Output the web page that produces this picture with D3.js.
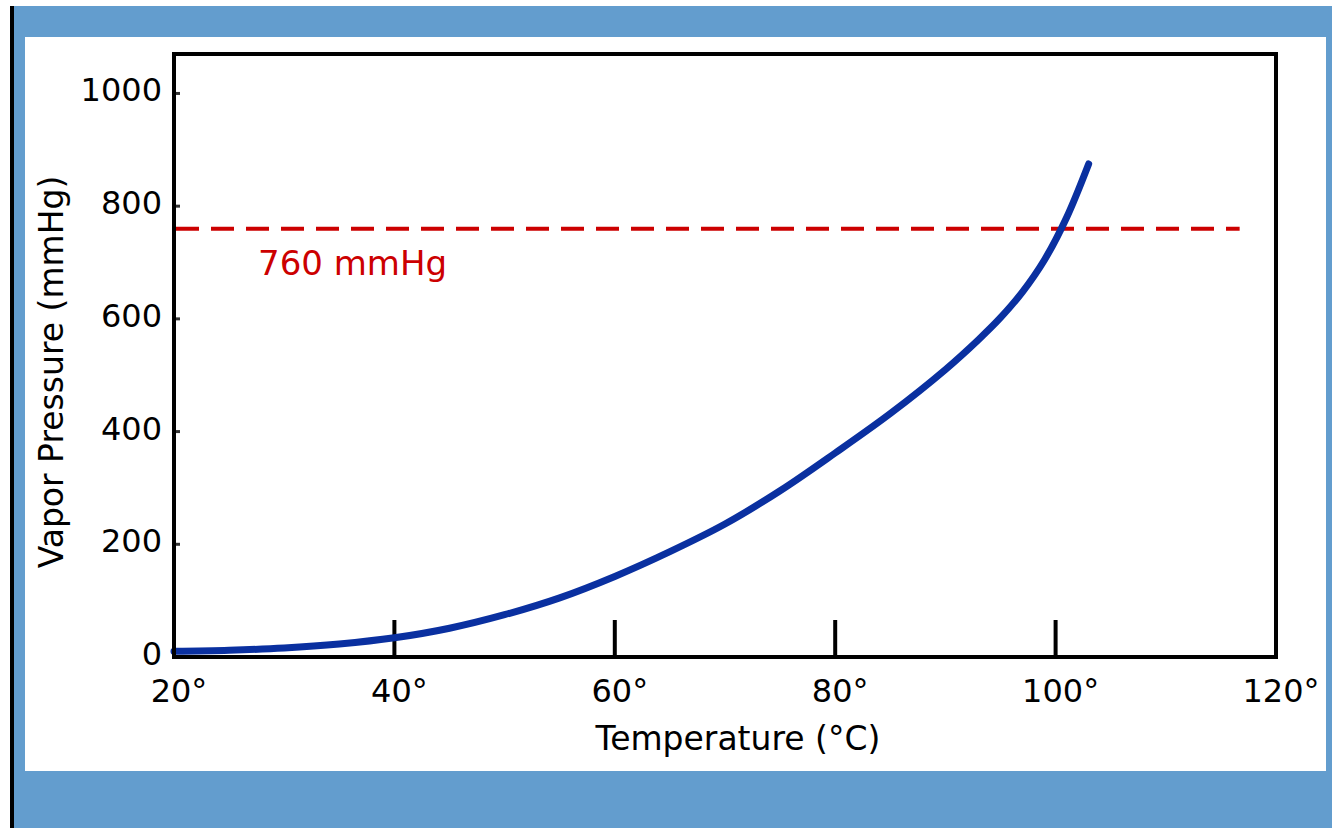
<!DOCTYPE html>
<html>
<head>
<meta charset="utf-8">
<script src="https://cdn.jsdelivr.net/npm/d3@7"></script>
<style>
	html, body { margin: 0; padding: 0; background: #fff; }
	svg { display: block; }
</style>
</head>
<body>
<svg id="chart" width="1332" height="828"></svg>
<script>
'use strict'

// vapour pressure of water
var temps = [20, 25, 30, 35, 40, 45, 50, 55, 60, 65, 70, 75, 80, 85, 90, 93, 95, 97, 99, 101, 103];
var pressures = [10, 12, 16, 23, 34, 51, 75, 105, 143, 187, 236, 295, 362, 432, 510, 563, 602, 648, 705, 780, 875];

var xTicks = [20, 40, 60, 80, 100, 120];
var yTicks = [0, 200, 400, 600, 800, 1000];
var xTickLabels = ['20°', '40°', '60°', '80°', '100°', '120°'];

var refPressure = 760;
var refSpan = [20, 116.7];
var refLabel = '760 mmHg';

var xTitle = 'Temperature (°C)';
var yTitle = 'Vapor Pressure (mmHg)';

function init(){
	var svg = d3.select('#chart');
	var font = 'DejaVu Sans, Verdana, sans-serif';

	// page frame
	svg.append('rect').attr('x', 14).attr('y', 6).attr('width', 1318).attr('height', 822).attr('fill', '#639dce');
	svg.append('rect').attr('x', 10).attr('y', 6).attr('width', 4).attr('height', 822).attr('fill', '#000');
	svg.append('rect').attr('x', 25).attr('y', 37).attr('width', 1301).attr('height', 734).attr('fill', '#fff');

	var x = d3.scaleLinear().domain([20, 120]).range([174, 1276]);
	var y = d3.scaleLinear().domain([0, 1070]).range([657, 54]);

	// x ticks (inside, from the bottom)
	svg.append('g')
		.selectAll('line')
		.data(xTicks.slice(1, -1))
		.enter().append('line')
		.attr('x1', function(d){ return x(d); })
		.attr('x2', function(d){ return x(d); })
		.attr('y1', y(0))
		.attr('y2', y(0) - 37)
		.attr('stroke', '#000')
		.attr('stroke-width', 4);

	// y ticks (short, inside)
	svg.append('g')
		.selectAll('line')
		.data(yTicks.slice(1))
		.enter().append('line')
		.attr('x1', x(20))
		.attr('x2', x(20) + 6)
		.attr('y1', function(d){ return y(d); })
		.attr('y2', function(d){ return y(d); })
		.attr('stroke', '#333')
		.attr('stroke-width', 3);

	// 760 mmHg reference
	svg.append('line')
		.attr('x1', x(refSpan[0]) + 2)
		.attr('x2', x(refSpan[1]))
		.attr('y1', y(refPressure))
		.attr('y2', y(refPressure))
		.attr('stroke', '#cc0000')
		.attr('stroke-width', 4)
		.attr('stroke-dasharray', '23 12');

	svg.append('text')
		.attr('x', 258)
		.attr('y', y(refPressure) + 46)
		.attr('fill', '#cc0000')
		.attr('font-family', font)
		.attr('font-size', 34)
		.text(refLabel);

	// curve
	var line = d3.line()
		.x(function(d){ return x(d[0]); })
		.y(function(d){ return y(d[1]); })
		.curve(d3.curveCatmullRom);

	svg.append('path')
		.attr('d', line(d3.zip(temps, pressures)))
		.attr('fill', 'none')
		.attr('stroke', '#0a30a0')
		.attr('stroke-width', 7)
		.attr('stroke-linecap', 'round');

	// plot frame
	svg.append('rect')
		.attr('x', x(20))
		.attr('y', y(1070))
		.attr('width', x(120) - x(20))
		.attr('height', y(0) - y(1070))
		.attr('fill', 'none')
		.attr('stroke', '#000')
		.attr('stroke-width', 4);

	// tick labels
	svg.append('g')
		.selectAll('text')
		.data(yTicks)
		.enter().append('text')
		.attr('x', x(20) - 12)
		.attr('y', function(d){ return y(d) + 8; })
		.attr('text-anchor', 'end')
		.attr('font-family', font)
		.attr('font-size', 32)
		.text(function(d){ return d; });

	svg.append('g')
		.selectAll('text')
		.data(xTicks)
		.enter().append('text')
		.attr('x', function(d){ return x(d) + 5; })
		.attr('y', 702)
		.attr('text-anchor', 'middle')
		.attr('font-family', font)
		.attr('font-size', 32)
		.text(function(d, i){ return xTickLabels[i]; });

	// axis titles
	svg.append('text')
		.attr('x', 738)
		.attr('y', 750)
		.attr('text-anchor', 'middle')
		.attr('font-family', font)
		.attr('font-size', 33)
		.text(xTitle);

	svg.append('text')
		.attr('transform', 'translate(63,372) rotate(-90)')
		.attr('text-anchor', 'middle')
		.attr('font-family', font)
		.attr('font-size', 33)
		.text(yTitle);
}

init();
</script>
</body>
</html>
